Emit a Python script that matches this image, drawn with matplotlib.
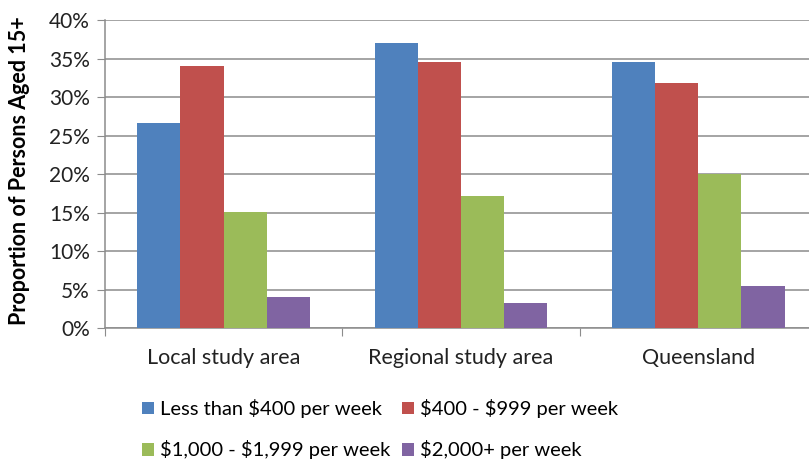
import numpy as np
import matplotlib.pyplot as plt
from matplotlib.ticker import PercentFormatter
from matplotlib.patches import Patch

plt.rcParams['font.family'] = ['Lato', 'DejaVu Sans']
plt.rcParams['text.parse_math'] = False

areas = ["Local study area", "Regional study area", "Queensland"]
series = ["Less than $400 per week", "$400 - $999 per week",
          "$1,000 - $1,999 per week", "$2,000+ per week"]
less_400 = [26.7, 37.0, 34.6]
from_400 = [34.0, 34.6, 31.8]
from_1000 = [15.1, 17.2, 20.0]
over_2000 = [4.0, 3.3, 5.5]
colors = ["#4f81bd", "#c0504d", "#9bbb59", "#8064a2"]

fig = plt.figure(figsize=(8.09, 4.68), dpi=100)
# the plot area runs a little past the right edge, as in the source image
ax = fig.add_axes([0.1298, 0.299, 0.880, 0.658])

x = np.arange(len(areas))
w = 0.182
vals = [less_400, from_400, from_1000, over_2000]
for i, v in enumerate(vals):
    ax.bar(x + (i - 1.5) * w, v, w, color=colors[i], zorder=3)

ax.set_xlim(-0.5, 2.5)
ax.set_ylim(0, 40)
ax.set_yticks(np.arange(0, 41, 5))
ax.yaxis.set_major_formatter(PercentFormatter(decimals=0))
ax.grid(axis='y', color='#8c8c8c', linewidth=1.1, zorder=0)
for s in ['top', 'right']:
    ax.spines[s].set_visible(False)
ax.spines['left'].set_color('#8c8c8c')
ax.spines['bottom'].set_color('#8c8c8c')
ax.spines['left'].set_linewidth(1.1)
ax.spines['bottom'].set_linewidth(1.1)

ax.set_xticks([-0.5, 0.5, 1.5, 2.5])
ax.set_xticklabels([])
ax.set_xticks(x, minor=True)
ax.set_xticklabels(areas, minor=True, fontsize=15.5, color='#222222')
ax.tick_params(axis='x', which='minor', length=0, pad=14)
ax.tick_params(axis='x', which='major', length=6, color='#8c8c8c')
ax.tick_params(axis='y', labelsize=15, length=6, color='#8c8c8c',
               labelcolor='#222222', pad=5)
ax.set_ylabel("Proportion of Persons Aged 15+", fontsize=15.5,
              fontweight='bold')
ax.yaxis.set_label_coords(-0.105, 0.51)

# legend fills columns first, so reorder to get row-wise order
order = [0, 2, 1, 3]
handles = [Patch(facecolor=colors[i]) for i in order]
labels = [series[i] for i in order]
fig.legend(handles, labels, ncol=2, loc='upper left',
           bbox_to_anchor=(0.175, 0.147), bbox_transform=fig.transFigure,
           frameon=False, fontsize=14.5, handlelength=0.6, handleheight=0.6,
           handletextpad=0.3, columnspacing=0.6, labelspacing=1.1,
           borderaxespad=0, borderpad=0)

fig.savefig("out.png", dpi=100)
